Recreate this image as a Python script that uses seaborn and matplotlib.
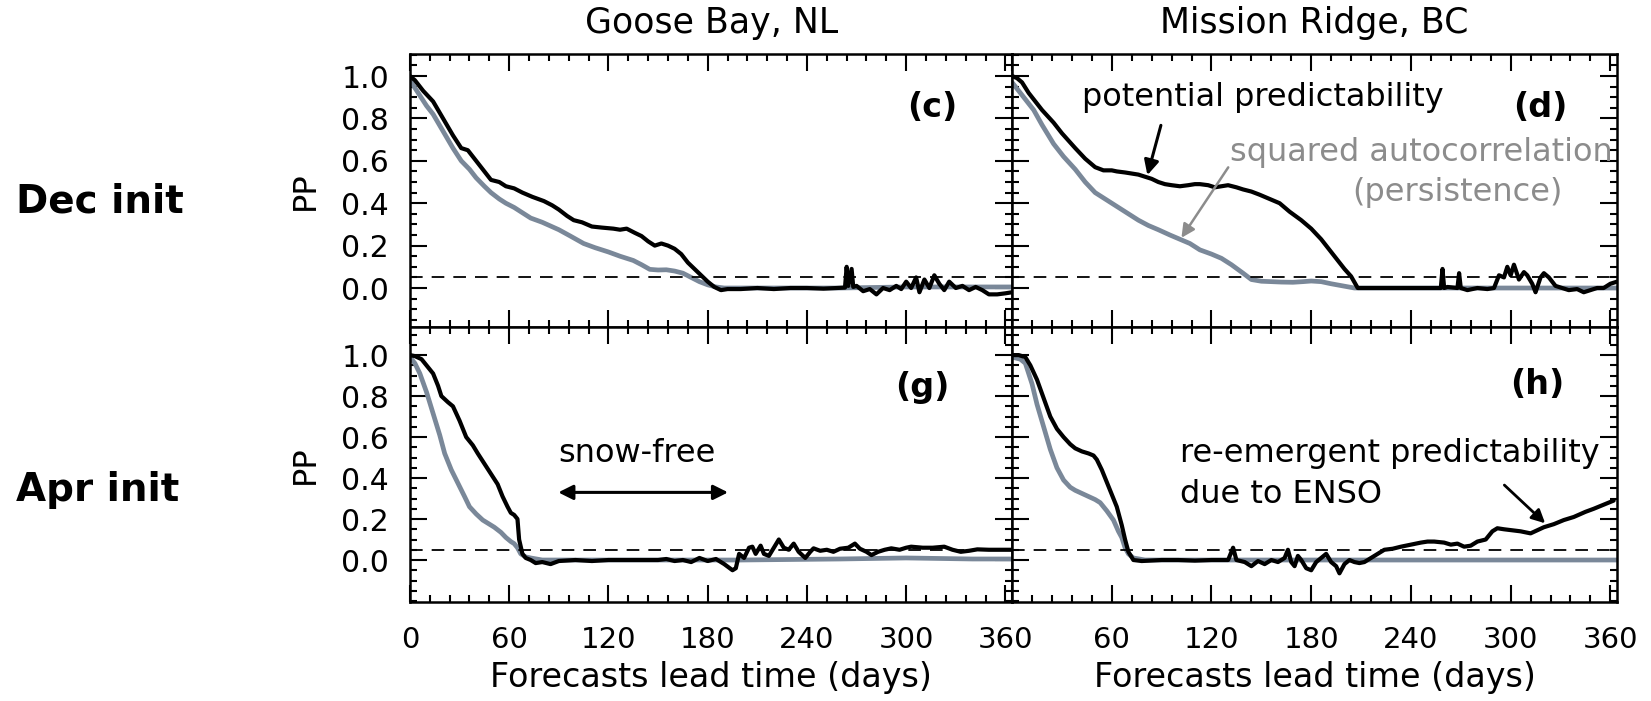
import numpy as np
import matplotlib
matplotlib.use("Agg")
import matplotlib.pyplot as plt
from matplotlib.ticker import FixedLocator, MultipleLocator
import seaborn as sns

# -- data: (lead day, PP) --
goose_dec_pp = [(0, 1.00), (3, 0.98), (8, 0.93), (14, 0.88), (20, 0.80), (26, 0.72), (31, 0.66), (35, 0.65),
                (38, 0.62), (44, 0.56), (49, 0.51), (54, 0.50), (58, 0.48), (63, 0.47), (68, 0.45), (74, 0.43),
                (81, 0.41), (86, 0.39), (90, 0.37), (95, 0.34), (99, 0.32), (104, 0.31), (110, 0.29), (116, 0.285),
                (123, 0.28), (127, 0.275), (131, 0.28), (136, 0.26), (140, 0.245), (144, 0.22), (148, 0.20),
                (152, 0.21), (156, 0.20), (160, 0.185), (164, 0.16), (168, 0.12), (172, 0.09), (176, 0.06),
                (180, 0.03), (184, 0.005), (188, -0.01), (192, -0.005), (200, -0.005), (210, 0.0), (220, -0.005),
                (230, 0.0), (240, 0.0), (250, -0.003), (258, 0.0), (263, 0.002), (264, 0.10), (265, 0.01),
                (267, 0.09), (268, 0.005), (270, 0.01), (274, -0.015), (278, -0.005), (282, -0.03), (286, 0.0),
                (290, -0.01), (294, 0.01), (297, -0.005), (300, 0.03), (303, 0.0), (306, 0.05), (308, -0.02),
                (311, 0.04), (314, 0.0), (317, 0.06), (320, 0.02), (323, -0.01), (326, 0.03), (330, 0.0),
                (334, 0.01), (338, -0.01), (342, 0.005), (346, -0.01), (350, -0.03), (355, -0.03), (360, -0.025),
                (364, -0.02)]
goose_dec_ac = [(0, 0.98), (5, 0.92), (10, 0.86), (14, 0.82), (20, 0.74), (26, 0.66), (31, 0.60), (36, 0.56),
                (40, 0.52), (45, 0.48), (49, 0.45), (54, 0.42), (58, 0.40), (63, 0.38), (68, 0.355), (73, 0.33),
                (80, 0.31), (90, 0.275), (97, 0.245), (105, 0.21), (112, 0.19), (120, 0.17), (127, 0.15),
                (135, 0.13), (140, 0.11), (145, 0.088), (150, 0.085), (155, 0.086), (160, 0.08), (165, 0.07),
                (170, 0.05), (175, 0.03), (180, 0.015), (185, 0.005), (190, 0.0), (220, 0.0), (260, 0.0),
                (300, 0.005), (330, 0.005), (364, 0.005)]

mission_dec_pp = [(0, 1.00), (3, 0.99), (6, 0.97), (10, 0.92), (13, 0.89), (18, 0.84), (25, 0.78), (30, 0.73),
                  (38, 0.66), (44, 0.61), (50, 0.57), (55, 0.555), (60, 0.555), (63, 0.55), (68, 0.545), (72, 0.54),
                  (76, 0.535), (80, 0.525), (84, 0.515), (88, 0.50), (92, 0.49), (96, 0.485), (101, 0.48),
                  (106, 0.485), (110, 0.49), (113, 0.49), (118, 0.485), (122, 0.475), (126, 0.48), (130, 0.485),
                  (135, 0.475), (139, 0.465), (144, 0.455), (149, 0.44), (155, 0.42), (161, 0.40), (167, 0.36),
                  (174, 0.32), (180, 0.28), (186, 0.23), (191, 0.18), (196, 0.13), (200, 0.09), (204, 0.055),
                  (208, 0.0), (215, 0.0), (230, 0.0), (245, 0.0), (258, 0.0), (259, 0.09), (260, 0.0), (262, 0.005),
                  (268, 0.0), (269, 0.07), (270, 0.0), (274, -0.01), (280, 0.0), (286, -0.005), (290, 0.0),
                  (293, 0.06), (296, 0.05), (298, 0.10), (300, 0.06), (302, 0.11), (305, 0.04), (308, 0.075),
                  (310, 0.06), (313, 0.02), (315, -0.02), (318, 0.05), (320, 0.07), (323, 0.05), (327, 0.01),
                  (331, 0.0), (335, -0.01), (340, -0.005), (344, -0.02), (348, -0.01), (352, 0.0), (356, 0.0),
                  (360, 0.02), (364, 0.03)]
mission_dec_ac = [(0, 0.97), (5, 0.92), (10, 0.87), (13, 0.84), (18, 0.77), (25, 0.68), (31, 0.62), (38, 0.56),
                  (44, 0.50), (50, 0.45), (56, 0.42), (63, 0.385), (70, 0.35), (76, 0.32), (82, 0.295), (88, 0.275),
                  (95, 0.25), (101, 0.23), (107, 0.21), (113, 0.18), (120, 0.16), (126, 0.14), (132, 0.11),
                  (139, 0.07), (144, 0.04), (150, 0.032), (156, 0.03), (162, 0.028), (169, 0.027), (175, 0.03),
                  (180, 0.033), (186, 0.03), (192, 0.02), (199, 0.01), (206, 0.0), (240, 0.0), (300, 0.0), (364, 0.0)]

goose_apr_pp = [(0, 1.00), (3, 0.995), (7, 0.98), (10, 0.95), (14, 0.91), (17, 0.85), (19, 0.80), (23, 0.77),
                (26, 0.75), (30, 0.68), (34, 0.60), (38, 0.56), (41, 0.52), (45, 0.47), (49, 0.42), (53, 0.37),
                (56, 0.31), (59, 0.26), (61, 0.23), (63, 0.22), (65, 0.20), (66, 0.10), (67, 0.065), (68, 0.03),
                (70, 0.01), (73, 0.0), (76, -0.015), (80, -0.01), (85, -0.02), (90, -0.005), (100, 0.0),
                (110, -0.005), (120, 0.0), (130, 0.0), (140, 0.0), (150, 0.0), (155, 0.005), (160, -0.005),
                (165, 0.0), (170, -0.01), (175, 0.01), (180, -0.005), (185, 0.005), (190, -0.02), (195, -0.05),
                (197, -0.04), (199, 0.03), (202, 0.01), (205, 0.06), (207, 0.065), (209, 0.03), (212, 0.07),
                (214, 0.03), (217, 0.02), (220, 0.06), (223, 0.10), (226, 0.06), (229, 0.05), (232, 0.08),
                (235, 0.04), (239, 0.01), (242, 0.04), (244, 0.057), (248, 0.045), (252, 0.05), (256, 0.04),
                (260, 0.055), (265, 0.06), (269, 0.08), (272, 0.055), (276, 0.04), (279, 0.024), (283, 0.04),
                (287, 0.05), (291, 0.057), (296, 0.05), (300, 0.06), (303, 0.065), (310, 0.06), (316, 0.06),
                (323, 0.065), (328, 0.05), (333, 0.04), (338, 0.045), (343, 0.052), (350, 0.05), (356, 0.05),
                (364, 0.05)]
goose_apr_ac = [(0, 0.99), (3, 0.96), (6, 0.91), (10, 0.82), (14, 0.715), (18, 0.61), (21, 0.52), (25, 0.44),
                (29, 0.375), (33, 0.31), (36, 0.26), (40, 0.225), (44, 0.195), (48, 0.175), (51, 0.16), (55, 0.135),
                (58, 0.11), (61, 0.09), (63, 0.08), (65, 0.06), (67, 0.03), (70, 0.015), (73, 0.01), (80, 0.0),
                (120, 0.0), (200, 0.0), (260, 0.005), (300, 0.01), (340, 0.005), (364, 0.005)]

mission_apr_pp = [(0, 1.00), (4, 1.00), (8, 0.99), (11, 0.95), (15, 0.88), (19, 0.79), (23, 0.70), (27, 0.64),
                  (31, 0.60), (35, 0.565), (38, 0.545), (42, 0.53), (46, 0.52), (49, 0.51), (51, 0.49), (54, 0.44),
                  (58, 0.36), (61, 0.30), (63, 0.26), (66, 0.17), (68, 0.10), (70, 0.04), (73, 0.0), (78, -0.005),
                  (90, 0.0), (100, 0.0), (110, -0.003), (120, 0.0), (130, 0.0), (133, 0.06), (135, 0.0),
                  (140, -0.01), (144, -0.03), (148, -0.005), (152, -0.02), (156, 0.0), (160, -0.01), (164, 0.01),
                  (166, 0.05), (168, -0.01), (170, -0.03), (172, 0.02), (174, 0.0), (177, -0.04), (180, -0.05),
                  (183, -0.01), (186, 0.01), (189, 0.03), (192, -0.01), (195, -0.03), (197, -0.065), (200, -0.02),
                  (203, 0.0), (206, -0.01), (209, -0.015), (212, -0.01), (216, 0.01), (220, 0.03), (224, 0.05),
                  (229, 0.055), (234, 0.065), (240, 0.075), (246, 0.085), (250, 0.09), (254, 0.09), (260, 0.085),
                  (264, 0.075), (268, 0.08), (272, 0.065), (276, 0.07), (280, 0.09), (285, 0.10), (289, 0.14),
                  (292, 0.155), (296, 0.15), (300, 0.146), (306, 0.14), (312, 0.13), (316, 0.145), (320, 0.16),
                  (326, 0.175), (332, 0.195), (338, 0.21), (345, 0.235), (350, 0.25), (356, 0.27), (362, 0.29)]
mission_apr_ac = [(0, 0.99), (5, 0.98), (8, 0.96), (12, 0.86), (15, 0.76), (19, 0.65), (23, 0.54), (27, 0.45),
                  (31, 0.39), (35, 0.355), (38, 0.34), (42, 0.325), (46, 0.31), (50, 0.295), (53, 0.28), (57, 0.24),
                  (61, 0.195), (64, 0.14), (66, 0.11), (68, 0.06), (70, 0.03), (73, 0.01), (80, 0.0), (364, 0.0)]

sites = ["Goose Bay, NL", "Mission Ridge, BC"]
inits = ["Dec init", "Apr init"]
panel_tags = ["(c)", "(d)", "(g)", "(h)"]
x_ticks = [0, 60, 120, 180, 240, 300, 360]
y_ticks = [0.0, 0.2, 0.4, 0.6, 0.8, 1.0]
threshold = 0.05

sns.set_style("ticks")
plt.rcParams["font.family"] = ["DejaVu Sans"]
plt.rcParams.update({"text.color": "black", "axes.labelcolor": "black",
                     "xtick.color": "black", "ytick.color": "black", "axes.edgecolor": "black"})

BLACK = "#000000"
GREY_LINE = "#7a8899"
GREY_TEXT = "#8c8c8c"
ANNOT_SIZE = 23

fig = plt.figure(figsize=(16.51, 7.01), dpi=100)
boxes = [[0.2483, 0.5335, 0.3647, 0.3895], [0.6130, 0.5335, 0.3664, 0.3895],
         [0.2483, 0.1412, 0.3647, 0.3923], [0.6130, 0.1412, 0.3664, 0.3923]]
pp_series = [goose_dec_pp, mission_dec_pp, goose_apr_pp, mission_apr_pp]
ac_series = [goose_dec_ac, mission_dec_ac, goose_apr_ac, mission_apr_ac]
ylims = [(-0.184, 1.104), (-0.184, 1.104), (-0.205, 1.137), (-0.205, 1.137)]
tag_pos = [(316, 0.85), (318, 0.85), (310, 0.84), (316, 0.855)]

axes = []
for i in range(4):
    ax = fig.add_axes(boxes[i])
    ac = np.array(ac_series[i]).T
    pp = np.array(pp_series[i]).T
    sns.lineplot(x=ac[0], y=ac[1], ax=ax, color=GREY_LINE, linewidth=3.4)
    sns.lineplot(x=pp[0], y=pp[1], ax=ax, color=BLACK, linewidth=3.0)
    ax.axhline(threshold, color=BLACK, lw=1.3, dashes=(7, 5))
    ax.set_xlim(0, 364)
    ax.set_ylim(*ylims[i])
    ax.xaxis.set_major_locator(FixedLocator(x_ticks))
    ax.xaxis.set_minor_locator(MultipleLocator(12))
    ax.yaxis.set_major_locator(FixedLocator(y_ticks))
    ax.yaxis.set_minor_locator(MultipleLocator(0.05))
    ax.tick_params(which="both", direction="in", top=True, right=True, width=1.5, labelsize=21.5)
    ax.tick_params(which="major", length=12)
    ax.tick_params(which="minor", length=5)
    ax.tick_params(axis="x", which="major", pad=17, labelsize=21)
    ax.tick_params(axis="y", which="major", pad=15)
    ax.set_yticklabels([f"{v:.1f}" for v in y_ticks])
    for s in ax.spines.values():
        s.set_linewidth(1.8)
        s.set_color(BLACK)
    ax.set_xlabel("")
    ax.set_ylabel("")
    ax.text(*tag_pos[i], panel_tags[i], fontsize=24, fontweight="bold", ha="center", va="center")
    if i % 2 == 1:
        ax.tick_params(labelleft=False)
    else:
        ax.set_ylabel("PP", fontsize=23, labelpad=15)
    if i < 2:
        ax.tick_params(labelbottom=False)
    else:
        ax.set_xlabel("Forecasts lead time (days)", fontsize=24, labelpad=5)
    axes.append(ax)

# right lower panel: hide the "0" that sits on top of the neighbour's "360"
axes[3].set_xticklabels([""] + [str(t) for t in x_ticks[1:]])

fig.text(0.4307, 0.967, sites[0], fontsize=25, ha="center", va="center")
fig.text(0.7962, 0.967, sites[1], fontsize=25, ha="center", va="center")
fig.text(0.0097, 0.712, inits[0], fontsize=28, fontweight="bold", ha="left", va="center")
fig.text(0.0097, 0.301, inits[1], fontsize=28, fontweight="bold", ha="left", va="center")

# annotations, panel (d)
axd = axes[1]
axd.text(42, 0.90, "potential predictability", fontsize=ANNOT_SIZE, ha="left", va="center")
axd.annotate("", xy=(81, 0.52), xytext=(90, 0.78),
             arrowprops=dict(arrowstyle="-|>", color=BLACK, lw=2.2, mutation_scale=22))
axd.text(131, 0.64, "squared autocorrelation", fontsize=ANNOT_SIZE, ha="left", va="center", color=GREY_TEXT)
axd.text(205, 0.45, "(persistence)", fontsize=ANNOT_SIZE, ha="left", va="center", color=GREY_TEXT)
axd.annotate("", xy=(101, 0.226), xytext=(131, 0.58),
             arrowprops=dict(arrowstyle="-|>", color=GREY_TEXT, lw=1.8, mutation_scale=20))

# panel (g)
axg = axes[2]
axg.text(137, 0.52, "snow-free", fontsize=ANNOT_SIZE, ha="center", va="center")
axg.annotate("", xy=(88, 0.33), xytext=(194, 0.33),
             arrowprops=dict(arrowstyle="<|-|>", color=BLACK, lw=2.2, mutation_scale=22))

# panel (h)
axh = axes[3]
axh.text(101, 0.52, "re-emergent predictability", fontsize=ANNOT_SIZE, ha="left", va="center")
axh.text(101, 0.32, "due to ENSO", fontsize=ANNOT_SIZE, ha="left", va="center")
axh.annotate("", xy=(322, 0.17), xytext=(295, 0.375),
             arrowprops=dict(arrowstyle="-|>", color=BLACK, lw=2.0, mutation_scale=20))

fig.savefig("out.png", dpi=100)
